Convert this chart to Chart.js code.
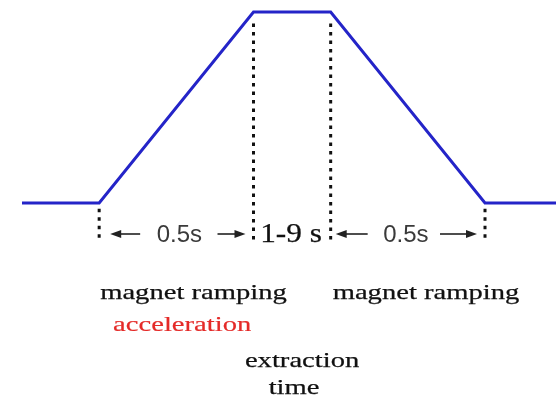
<!DOCTYPE html>
<html>
<head>
<meta charset="utf-8">
<script src="https://cdn.jsdelivr.net/npm/chart.js@4/dist/chart.umd.min.js"></script>
<style>
  html, body { margin: 0; padding: 0; background: #ffffff; }
  #wrap { width: 556px; height: 399px; }
</style>
</head>
<body>
<div id="wrap"><canvas id="c" width="556" height="399"></canvas></div>
<script>
// ---- data (schematic time axis in seconds, normalised magnet field) ----
const timePoints  = [-0.25, 0, 0.5, 0.75, 1.25, 1.48];
const fieldValues = [0, 0, 1, 1, 0, 0];

// dotted marker lines: x positions and their [top, bottom] values
const markerTimes   = [0, 0.5, 0.75, 1.25];
const markerTops    = [-0.03, 0.94, 0.94, -0.03];
const markerBottoms = [-0.205, -0.205, -0.205, -0.205];

// annotation texts
const intervalLabels = ['0.5s', '1-9 s', '0.5s'];
const phaseLabels    = ['magnet ramping', 'magnet ramping'];
const accelLabel     = 'acceleration';
const extractionLabels = ['extraction', 'time'];

const lineData = timePoints.map((t, i) => ({ x: t, y: fieldValues[i] }));
const markerSets = markerTimes.map((t, i) => ({
  data: [{ x: t, y: markerTops[i] }, { x: t, y: markerBottoms[i] }],
  borderColor: '#111111',
  borderWidth: 3,
  borderDash: [3.5, 5],
  pointRadius: 0,
  fill: false,
  clip: false
}));

function stretchedText(ctx, text, x, y, font, color, sx, align, strokeW) {
  ctx.save();
  ctx.font = font;
  ctx.fillStyle = color;
  ctx.strokeStyle = color;
  ctx.textBaseline = 'alphabetic';
  const w = ctx.measureText(text).width * sx;
  let left = x;
  if (align === 'center') left = x - w / 2;
  else if (align === 'right') left = x - w;
  ctx.translate(left, y);
  ctx.scale(sx, 1);
  ctx.textAlign = 'left';
  ctx.fillText(text, 0, 0);
  if (strokeW) {
    ctx.lineWidth = strokeW;
    ctx.strokeText(text, 0, 0);
  }
  ctx.restore();
}

function arrow(ctx, x1, x2, y) {
  // from tail x1 to head x2
  const dir = x2 > x1 ? 1 : -1;
  const headLen = 11, halfW = 4;
  ctx.save();
  ctx.strokeStyle = '#222222';
  ctx.fillStyle = '#222222';
  ctx.lineWidth = 1.6;
  ctx.beginPath();
  ctx.moveTo(x1, y);
  ctx.lineTo(x2 - dir * headLen + dir * 1, y);
  ctx.stroke();
  ctx.beginPath();
  ctx.moveTo(x2, y);
  ctx.lineTo(x2 - dir * headLen, y - halfW);
  ctx.lineTo(x2 - dir * headLen, y + halfW);
  ctx.closePath();
  ctx.fill();
  ctx.restore();
}

const annotations = {
  id: 'annotations',
  afterDatasetsDraw(chart) {
    const ctx = chart.ctx;
    const xs = chart.scales.x, ys = chart.scales.y;
    const px = markerTimes.map(t => xs.getPixelForValue(t));
    const base = ys.getPixelForValue(0);
    const arrowY = base + 31;
    const textY = base + 38.5;

    // interval arrows
    arrow(ctx, px[0] + 41, px[0] + 11, arrowY);
    arrow(ctx, px[1] - 36, px[1] - 8, arrowY);
    arrow(ctx, px[2] + 37, px[2] + 5, arrowY);
    arrow(ctx, px[3] - 45, px[3] - 8, arrowY);

    const sansFont = '24px "Liberation Sans", Arimo, sans-serif';
    stretchedText(ctx, intervalLabels[0], (px[0] + px[1]) / 2 + 3, textY, sansFont, '#3a3a3a', 1.0, 'center', 0);
    stretchedText(ctx, intervalLabels[1], (px[1] + px[2]) / 2 - 1, textY + 0.5, '27px "Liberation Serif", serif', '#111111', 1.16, 'center', 0.25);
    stretchedText(ctx, intervalLabels[2], (px[2] + px[3]) / 2 - 2, textY, sansFont, '#3a3a3a', 1.0, 'center', 0);

    const serif = '22px "Liberation Serif", serif';
    stretchedText(ctx, phaseLabels[0], px[0] + 1, base + 96, serif, '#111111', 1.3, 'left', 0.25);
    stretchedText(ctx, phaseLabels[1], px[2] + 2, base + 96, serif, '#111111', 1.3, 'left', 0.25);
    stretchedText(ctx, accelLabel, px[0] + 83, base + 128, serif, '#e42a28', 1.3, 'center', 0.2);
    stretchedText(ctx, extractionLabels[0], (px[1] + px[2]) / 2 + 10, base + 164, serif, '#111111', 1.3, 'center', 0.25);
    stretchedText(ctx, extractionLabels[1], (px[1] + px[2]) / 2 + 2, base + 191, serif, '#111111', 1.3, 'center', 0.25);
  }
};

new Chart(document.getElementById('c'), {
  type: 'line',
  data: {
    datasets: [
      {
        data: lineData,
        borderColor: '#2424c8',
        borderWidth: 3,
        pointRadius: 0,
        fill: false,
        tension: 0,
        clip: false
      },
      ...markerSets
    ]
  },
  options: {
    responsive: false,
    animation: false,
    events: [],
    layout: { padding: { left: 22, right: 0, top: 12, bottom: 196 } },
    plugins: { legend: { display: false }, tooltip: { enabled: false } },
    scales: {
      x: { type: 'linear', display: false, min: -0.25, max: 1.48 },
      y: { type: 'linear', display: false, min: 0, max: 1 }
    }
  },
  plugins: [annotations]
});
</script>
</body>
</html>
